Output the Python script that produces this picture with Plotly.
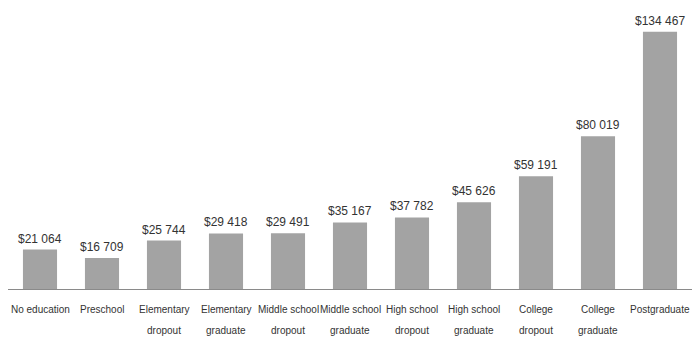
import plotly.graph_objects as go

categories = ["No education", "Preschool", "Elementary<br>dropout", "Elementary<br>graduate",
              "Middle school<br>dropout", "Middle school<br>graduate", "High school<br>dropout",
              "High school<br>graduate", "College<br>dropout", "College<br>graduate", "Postgraduate"]
values = [21064, 16709, 25744, 29418, 29491, 35167, 37782, 45626, 59191, 80019, 134467]

labels = ["$" + f"{v:,}".replace(",", " ") for v in values]
FONT = "Liberation Sans Narrow, Liberation Sans, Arial, sans-serif"
valfont = dict(family=FONT, size=12, color="#333333")
tickfont = dict(family=FONT, size=10, color="#333333")

xs = list(range(len(categories)))
fig = go.Figure(go.Bar(
    x=xs, y=values,
    marker=dict(color="#a3a3a3", line=dict(width=0)),
    width=0.55,
))

annotations = [dict(x=x, y=v, text=t, showarrow=False, yanchor="bottom", yshift=2,
                    xref="x", yref="y", font=valfont)
               for x, v, t in zip(xs, values, labels)]

# category labels, one annotation per line to mimic the reference line spacing
for x, cat in zip(xs, categories):
    for i, line in enumerate(cat.split("<br>")):
        annotations.append(dict(x=x, y=0, xref="x", yref="paper", text=line,
                                showarrow=False, yanchor="middle", yshift=-19 - 21 * i,
                                font=tickfont))

fig.update_layout(
    width=692, height=340,
    margin=dict(l=1, r=9, t=13, b=58, autoexpand=False),
    paper_bgcolor="white", plot_bgcolor="white",
    showlegend=False,
    font=valfont,
    xaxis=dict(tickmode="array", tickvals=xs, showticklabels=False,
               range=[-0.5, 10.5], showgrid=False, zeroline=False, showline=False,
               ticks=""),
    yaxis=dict(range=[0, 140000], visible=False, showgrid=False, zeroline=False),
    annotations=annotations,
    shapes=[dict(type="line", xref="paper", yref="y", x0=-0.0015, x1=1.0103, y0=0, y1=0,
                 line=dict(color="#8a8a8a", width=2))],
)

fig.write_html("out.html")
